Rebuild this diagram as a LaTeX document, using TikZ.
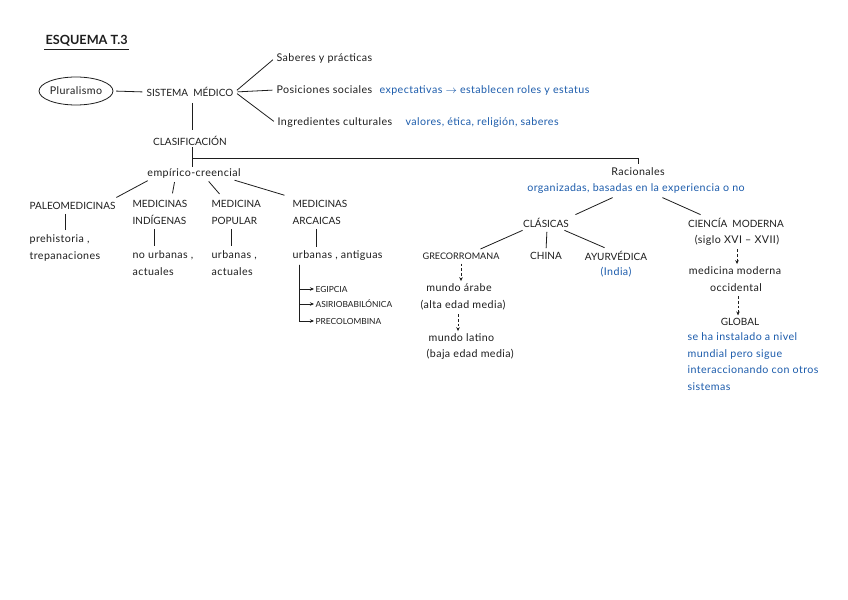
\documentclass[tikz,border=0pt]{standalone}
\usepackage{fontspec}
\setmainfont{Lato}
\newfontfamily\handfont{Lato}[LetterSpace=4]
\usepackage{tikz}
\usetikzlibrary{calc,arrows.meta,shapes.geometric}
\definecolor{inkblue}{RGB}{28,92,172}
\definecolor{ink}{RGB}{30,30,30}

\tikzset{
    txt/.style={font=\handfont\fontsize{8}{12.5}\selectfont, text=ink, inner sep=1pt},
    blu/.style={txt, text=inkblue},
    capsTxt/.style={font=\fontsize{7.5}{12.5}\selectfont, text=ink, inner sep=1pt},
    smallcaps/.style={capsTxt, font=\fontsize{6.3}{9}\selectfont},
    lnk/.style={draw=ink, line width=0.6pt, shorten >=2pt, shorten <=2pt},
    dasharr/.style={draw=ink, line width=0.5pt, dash pattern=on 2pt off 1.5pt,
        -{Stealth[length=3pt,width=2.6pt]}, shorten >=1pt, shorten <=2pt},
    solarr/.style={draw=ink, line width=0.6pt, -{Stealth[length=3pt,width=2.6pt]}}
}

\begin{document}
\begin{tikzpicture}[x=0.75pt, y=-0.75pt, >=Stealth]
    % Page
    \fill[white] (0,0) rectangle (848,599);
    \useasboundingbox (0,0) rectangle (848,599);

    % Title
    \node[capsTxt, anchor=west, font=\bfseries\fontsize{9.5}{11}\selectfont] (title) at (44,41) {ESQUEMA T.3};
    \draw[ink, line width=0.8pt] ($(title.south west)+(0,1)$) -- ($(title.south east)+(0,1)$);

    % Sistema medico and its parts
    \node[txt, draw=ink, line width=0.6pt, ellipse, minimum width=54pt, minimum height=21pt, inner sep=0pt] (plural) at (76,91) {Pluralismo};
    \node[capsTxt] (sist) at (190,92) {SISTEMA~~MÉDICO};
    \node[txt, anchor=west] (saberes) at (275,58) {Saberes y prácticas};
    \node[txt, anchor=west] (posic) at (275,90) {Posiciones sociales};
    \node[blu, anchor=west] (expect) at (378,90) {expectativas $\rightarrow$ establecen roles y estatus};
    \node[txt, anchor=west] (ingred) at (276,123) {Ingredientes culturales};
    \node[blu, anchor=west] (valores) at (404,123) {valores, ética, religión, saberes};

    \draw[lnk] (plural.east) -- (sist.west);
    \draw[lnk] (sist.east) -- (saberes.west);
    \draw[lnk] (sist.east) -- (posic.west);
    \draw[lnk] (sist.east) -- (ingred.west);

    % Clasificacion
    \node[capsTxt] (clasif) at (190,141) {CLASIFICACIÓN};
    \draw[lnk] ($(sist.south)+(2,2)$) -- ($(clasif.north)+(2,-2)$);
    \coordinate (bar) at (0,158);

    % Empirico-creencial branch
    \node[txt] (empirico) at (194,173) {empírico-creencial};
    \node[capsTxt, anchor=west] (paleo) at (28,206) {PALEOMEDICINAS};
    \node[txt, anchor=north west, align=left] (prehist) at (28,233) {prehistoria ,\\trepanaciones};
    \node[capsTxt, anchor=north west, align=left] (indig) at (131,199) {MEDICINAS\\INDÍGENAS};
    \node[txt, anchor=north west, align=left] (noUrb) at (131,249) {no urbanas ,\\actuales};
    \node[capsTxt, anchor=north west, align=left] (popular) at (210,199) {MEDICINA\\POPULAR};
    \node[txt, anchor=north west, align=left] (urbAct) at (210,249) {urbanas ,\\actuales};
    \node[capsTxt, anchor=north west, align=left] (arcaicas) at (291,199) {MEDICINAS\\ARCAICAS};
    \node[txt, anchor=west] (urbAnt) at (291,256) {urbanas , antiguas};
    \node[smallcaps, anchor=west] (egipcia) at (314,289) {EGIPCIA};
    \node[smallcaps, anchor=west] (asirio) at (314,304) {ASIRIOBABILÓNICA};
    \node[smallcaps, anchor=west] (precol) at (314,321) {PRECOLOMBINA};

    \draw[lnk, shorten >=0pt] ($(clasif.south)+(2,0)$) -- ($(empirico.north)+(-2,0)$);
    \draw[lnk] ($(empirico.south)+(-44,0)$) -- ($(paleo.north east)+(-3,-2)$);
    \draw[lnk] ($(empirico.south)+(-19,0)$) -- ($(indig.north)+(12,-3)$);
    \draw[lnk] ($(empirico.south)+(13,0)$) -- ($(popular.north)+(-15,-3)$);
    \draw[lnk] ($(empirico.south)+(38,0)$) -- ($(arcaicas.north west)+(-4,-3)$);
    \draw[lnk] (prehist.north |- paleo.south) -- (prehist.north);
    \draw[lnk] ($(indig.south west)+(23,0)$) -- ($(noUrb.north west)+(23,0)$);
    \draw[lnk] ($(popular.south west)+(21,0)$) -- ($(urbAct.north west)+(21,0)$);
    \draw[lnk] ($(arcaicas.south west)+(25,0)$) -- ($(urbAnt.north west)+(25,0)$);
    \coordinate (trunk) at ($(urbAnt.south west)+(8,2)$);
    \draw[solarr] (trunk) |- (egipcia.west);
    \draw[solarr] (trunk) |- (asirio.west);
    \draw[solarr] (trunk) |- (precol.west);

    % Racionales branch
    \node[txt] (racion) at (638,172) {Racionales};
    \node[blu] (organiz) at (636,189) {organizadas, basadas en la experiencia o no};
    \draw[lnk, shorten <=0pt] ($(clasif.south)+(2,0)$) |- (bar -| racion.north) -- (racion.north);

    \node[capsTxt] (clasicas) at (546,223) {CLÁSICAS};
    \node[capsTxt] (ciencia) at (736,223) {CIENCÍA~~MODERNA};
    \node[txt] (siglo) at (737,240) {(siglo XVI – XVII)};
    \draw[lnk] ($(organiz.south)+(-21,1)$) -- ($(clasicas.north)+(27,-1)$);
    \draw[lnk] ($(organiz.south)+(24,1)$) -- ($(ciencia.north)+(-33,-1)$);

    % Clasicas
    \node[capsTxt, font=\fontsize{6.8}{9}\selectfont] (greco) at (461,256) {GRECORROMANA};
    \node[capsTxt] (china) at (546,256) {CHINA};
    \node[capsTxt] (ayur) at (616,256) {AYURVÉDICA};
    \node[blu] (india) at (616,272) {(India)};
    \draw[lnk] ($(clasicas.south)+(-21,0)$) -- ($(greco.north)+(17,-1)$);
    \draw[lnk] ($(clasicas.south)+(1,0)$) -- (clasicas.south |- china.north);
    \draw[lnk] ($(clasicas.south)+(16,0)$) -- ($(ayur.north)+(-9,-1)$);

    \node[txt] (arabe) at (459,288) {mundo árabe};
    \node[txt] (alta) at (463,305) {(alta edad media)};
    \node[txt, anchor=west] (latino) at (427,338) {mundo latino};
    \node[txt, anchor=west] (baja) at (425,354) {(baja edad media)};
    \draw[dasharr] (greco.south) -- (greco.south |- arabe.north);
    \draw[dasharr] ($(alta.south)+(-5,0)$) -- ($(alta.south |- latino.north)+(-5,0)$);

    % Ciencia moderna
    \node[txt] (medMod) at (735,271) {medicina moderna};
    \node[txt] (occid) at (736,288) {occidental};
    \node[capsTxt] (global) at (740,322) {GLOBAL};
    \node[blu, anchor=north west, align=left] (seHa) at (686,331)
        {se ha instalado a nivel\\mundial pero sigue\\interaccionando con otros\\sistemas};
    \draw[dasharr] (siglo.south) -- (siglo.south |- medMod.north);
    \draw[dasharr] ($(occid.south)+(2,0)$) -- ($(occid.south |- global.north)+(2,0)$);
\end{tikzpicture}
\end{document}
